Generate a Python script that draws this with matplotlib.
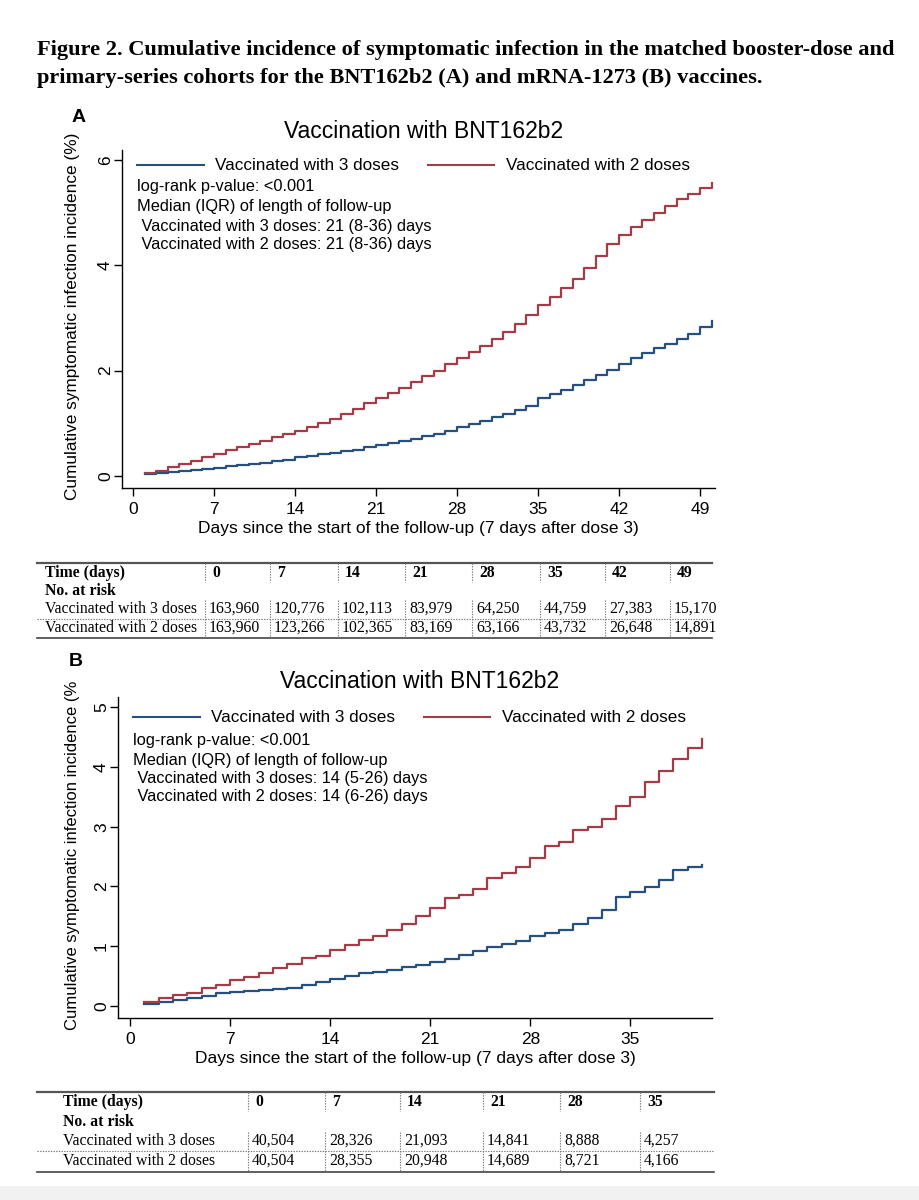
import matplotlib
matplotlib.use("Agg")
import matplotlib.pyplot as plt
from matplotlib.lines import Line2D
from matplotlib.patches import Rectangle

# ---------------- data ----------------
days_a = list(range(1, 51))
a_three = [0.03, 0.05, 0.07, 0.09, 0.11, 0.13, 0.15, 0.18, 0.20, 0.22,
           0.25, 0.28, 0.31, 0.35, 0.38, 0.41, 0.44, 0.47, 0.50, 0.54,
           0.58, 0.62, 0.66, 0.70, 0.75, 0.80, 0.86, 0.92, 0.98, 1.04,
           1.11, 1.18, 1.25, 1.33, 1.47, 1.55, 1.63, 1.72, 1.82, 1.92,
           2.02, 2.12, 2.24, 2.34, 2.43, 2.51, 2.60, 2.70, 2.82, 2.95]
a_two = [0.05, 0.10, 0.17, 0.23, 0.29, 0.36, 0.42, 0.49, 0.55, 0.60,
         0.66, 0.73, 0.79, 0.85, 0.93, 1.00, 1.08, 1.18, 1.28, 1.38,
         1.48, 1.57, 1.67, 1.78, 1.89, 2.00, 2.12, 2.23, 2.35, 2.47,
         2.60, 2.74, 2.88, 3.05, 3.24, 3.40, 3.57, 3.74, 3.94, 4.18,
         4.40, 4.58, 4.72, 4.86, 5.00, 5.13, 5.25, 5.35, 5.47, 5.57]

days_b = list(range(1, 41))
b_three = [0.04, 0.07, 0.10, 0.13, 0.17, 0.21, 0.24, 0.26, 0.27, 0.28,
           0.31, 0.35, 0.41, 0.46, 0.50, 0.55, 0.57, 0.61, 0.65, 0.69,
           0.73, 0.78, 0.85, 0.92, 0.99, 1.04, 1.09, 1.17, 1.22, 1.27,
           1.37, 1.47, 1.60, 1.82, 1.91, 1.99, 2.11, 2.27, 2.32, 2.36]
b_two = [0.07, 0.13, 0.18, 0.22, 0.30, 0.36, 0.44, 0.49, 0.56, 0.63,
         0.71, 0.80, 0.84, 0.94, 1.02, 1.10, 1.17, 1.27, 1.37, 1.50,
         1.64, 1.80, 1.86, 1.95, 2.14, 2.23, 2.32, 2.48, 2.67, 2.75,
         2.95, 3.00, 3.13, 3.34, 3.49, 3.74, 3.94, 4.14, 4.31, 4.46]

xticks_a = [0, 7, 14, 21, 28, 35, 42, 49]
yticks_a = [0, 2, 4, 6]
xticks_b = [0, 7, 14, 21, 28, 35]
yticks_b = [0, 1, 2, 3, 4, 5]

series_names = ["Vaccinated with 3 doses", "Vaccinated with 2 doses"]
panel_title = "Vaccination with BNT162b2"
y_label_a = "Cumulative symptomatic infection incidence (%)"
y_label_b = "Cumulative symptomatic infection incidence (%"
x_label = "Days since the start of the follow-up (7 days after dose 3)"
notes_a = ["log-rank p-value: <0.001", "Median (IQR) of length of follow-up",
           " Vaccinated with 3 doses: 21 (8-36) days",
           " Vaccinated with 2 doses: 21 (8-36) days"]
notes_b = ["log-rank p-value: <0.001", "Median (IQR) of length of follow-up",
           " Vaccinated with 3 doses: 14 (5-26) days",
           " Vaccinated with 2 doses: 14 (6-26) days"]

risk_times_a = ["0", "7", "14", "21", "28", "35", "42", "49"]
risk_three_a = ["163,960", "120,776", "102,113", "83,979", "64,250", "44,759", "27,383", "15,170"]
risk_two_a = ["163,960", "123,266", "102,365", "83,169", "63,166", "43,732", "26,648", "14,891"]
risk_times_b = ["0", "7", "14", "21", "28", "35"]
risk_three_b = ["40,504", "28,326", "21,093", "14,841", "8,888", "4,257"]
risk_two_b = ["40,504", "28,355", "20,948", "14,689", "8,721", "4,166"]

fig_title = ["Figure 2. Cumulative incidence of symptomatic infection in the matched booster-dose and",
             "primary-series cohorts for the BNT162b2 (A) and mRNA-1273 (B) vaccines."]

# ---------------- layout helpers ----------------
W, H = 919, 1200
fig = plt.figure(figsize=(W / 100, H / 100), dpi=100)
fig.patch.set_facecolor("white")

def fx(px):
    return px / W

def fy(py):
    return 1 - py / H

SANS = ["Liberation Sans", "DejaVu Sans"]
SERIF = ["Liberation Serif", "DejaVu Serif"]
BLUE = "#26507d"
RED = "#a53b47"

# bottom grey strip
fig.patches.append(Rectangle((0, 0), 1, fy(1186), transform=fig.transFigure,
                             facecolor="#f1f1f1", edgecolor="none", zorder=0))

# figure heading
for i, line in enumerate(fig_title):
    fig.text(fx(37), fy(50 + i * 28), line, family=SERIF, weight="bold",
             fontsize=16.1, va="center", ha="left")


def make_panel(letter, rect_px, xlim, ylim, xticks, yticks, days, s3, s2,
               notes, ylabel, ylabel_size, ylabel_bottom, title_y, letter_xy,
               leg_y, note_ys, note_x):
    l, t, r, b = rect_px
    ax = fig.add_axes([fx(l), fy(b), fx(r) - fx(l), fy(t) - fy(b)])
    ax.step(days, s3, where="post", color=BLUE, lw=1.6, label=series_names[0])
    ax.step(days, s2, where="post", color=RED, lw=1.6, label=series_names[1])
    ax.set_xlim(*xlim)
    ax.set_ylim(*ylim)
    ax.set_xticks(xticks)
    ax.set_yticks(yticks)
    for s in ["top", "right"]:
        ax.spines[s].set_visible(False)
    for s in ["left", "bottom"]:
        ax.spines[s].set_linewidth(1.0)
    ax.tick_params(direction="out", length=6, width=1.0, labelsize=12.5)
    ax.tick_params(axis="x", pad=4)
    ax.tick_params(axis="y", pad=0.5)
    for lab in ax.get_xticklabels() + ax.get_yticklabels():
        lab.set_family(SANS)
    for lab in ax.get_yticklabels():
        lab.set_rotation(90)
        lab.set_va("center")
    ax.set_xlabel(x_label, family=SANS, fontsize=12.5, labelpad=3)
    fig.text(fx(73), fy(ylabel_bottom), ylabel, rotation=90,
             family=SANS, fontsize=ylabel_size, ha="center", va="bottom")
    fig.text(fx((l + r) / 2 + 5), fy(title_y), panel_title, family=SANS,
             fontsize=16.5, ha="center", va="center")
    fig.text(fx(letter_xy[0]), fy(letter_xy[1]), letter, family=SANS,
             weight="bold", fontsize=14, ha="center", va="center")
    leg = ax.legend(loc="center left",
                    bbox_to_anchor=((note_x - l) / (r - l), (b - leg_y) / (b - t)),
                    ncol=2, frameon=False, handlelength=3.9,
                    handletextpad=0.65, columnspacing=1.7, borderpad=0,
                    borderaxespad=0, prop={"family": SANS, "size": 12.3})
    for ln in leg.get_lines():
        ln.set_linewidth(1.5)
    for txt, yy in zip(notes, note_ys):
        fig.text(fx(note_x), fy(yy), txt, family=SANS, fontsize=11.8,
                 ha="left", va="center")
    return ax


make_panel("A", (122, 150, 715, 488), (-0.95, 50.3), (-0.23, 6.19),
           xticks_a, yticks_a, days_a, a_three, a_two, notes_a,
           y_label_a, 12.4, 500, 132, (79, 118), 166, [187, 207, 226, 244], 137)

make_panel("B", (118, 697, 712, 1018), (-0.84, 40.7), (-0.2, 5.17),
           xticks_b, yticks_b, days_b, b_three, b_two, notes_b,
           y_label_b, 12.0, 1030, 682, (76, 662), 718, [741, 760, 778, 796], 133)


def hline(x0, x1, y, lw, ls="-", color="black"):
    fig.add_artist(Line2D([fx(x0), fx(x1)], [fy(y), fy(y)], transform=fig.transFigure,
                          lw=lw, ls=ls, color=color))


def vline(x, y0, y1):
    fig.add_artist(Line2D([fx(x), fx(x)], [fy(y0), fy(y1)], transform=fig.transFigure,
                          lw=0.8, ls=(0, (1.2, 1.2)), color="#777777"))


def make_table(times, r3, r2, seps, top, rows_y, label_x, right, dotted_y, bottom):
    hline(37, right, top, 1.6, color="#555555")
    hline(37, right, bottom, 1.2, color="#444444")
    hline(37, right, dotted_y, 0.8, ls=(0, (1.2, 1.2)), color="#777777")
    # vertical separators (header row and value rows)
    for sx in seps:
        vline(sx, top, rows_y[0] + 9)
        vline(sx, rows_y[2] - 9, bottom)
    fig.text(fx(label_x), fy(rows_y[0]), "Time (days)", family=SERIF,
             weight="bold", fontsize=11.3, va="center")
    fig.text(fx(label_x), fy(rows_y[1]), "No. at risk", family=SERIF,
             weight="bold", fontsize=11.3, va="center")
    fig.text(fx(label_x), fy(rows_y[2]), series_names[0], family=SERIF,
             fontsize=11.3, va="center")
    fig.text(fx(label_x), fy(rows_y[3]), series_names[1], family=SERIF,
             fontsize=11.3, va="center")
    for sx, tm, v3, v2 in zip(seps, times, r3, r2):
        fig.text(fx(sx + 7), fy(rows_y[0]), tm, family=SERIF, weight="bold",
                 fontsize=11.3, va="center")
        fig.text(fx(sx + 4), fy(rows_y[2]), v3, family=SERIF, fontsize=11.3, va="center")
        fig.text(fx(sx + 4), fy(rows_y[3]), v2, family=SERIF, fontsize=11.3, va="center")


make_table(risk_times_a, risk_three_a, risk_two_a,
           [205, 270, 338, 405, 472, 540, 605, 670], 563, [573, 591, 609, 628],
           45, 712, 619, 638)
make_table(risk_times_b, risk_three_b, risk_two_b,
           [248, 325, 400, 483, 560, 640], 1092, [1102, 1122, 1141, 1161],
           63, 714, 1151, 1172)

fig.savefig("out.png", dpi=100, facecolor="white")
